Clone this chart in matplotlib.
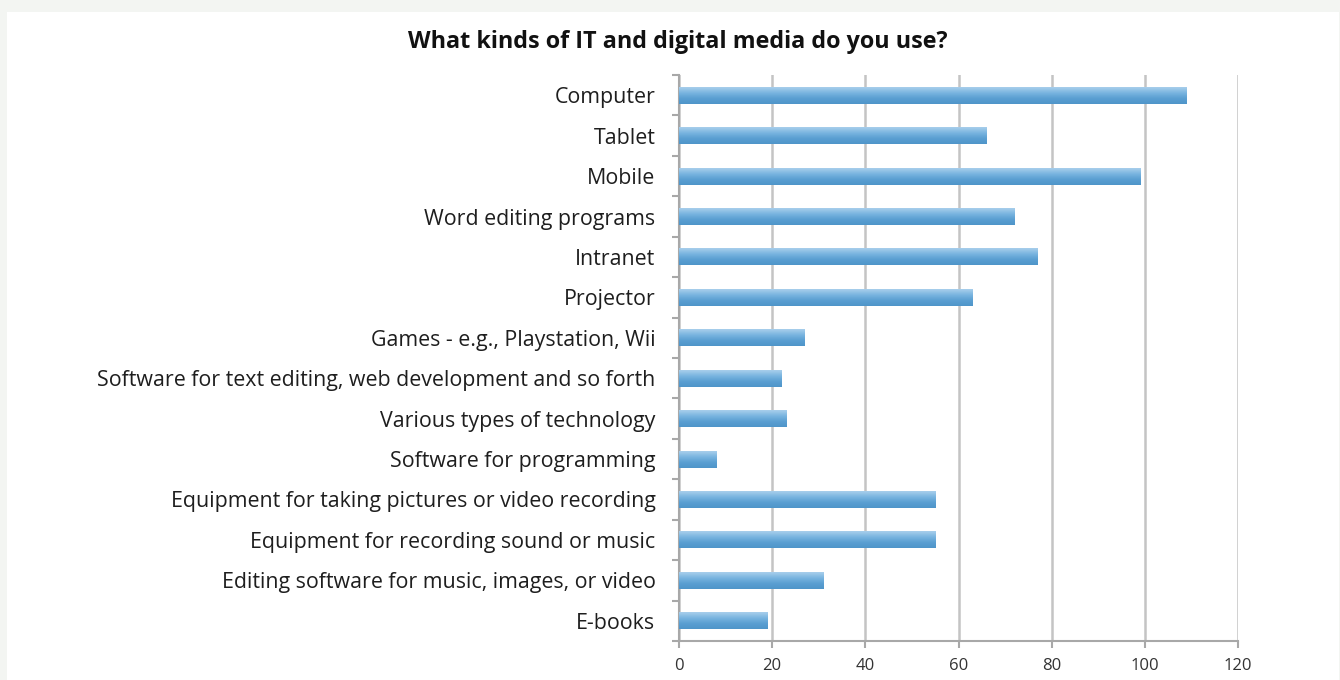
import numpy as np
import matplotlib.pyplot as plt
from matplotlib.patches import Rectangle
from matplotlib.colors import LinearSegmentedColormap

# survey answers, top to bottom
categories = [
    "Computer",
    "Tablet",
    "Mobile",
    "Word editing programs",
    "Intranet",
    "Projector",
    "Games - e.g., Playstation, Wii",
    "Software for text editing, web development and so forth",
    "Various types of technology",
    "Software for programming",
    "Equipment for taking pictures or video recording",
    "Equipment for recording sound or music",
    "Editing software for music, images, or video",
    "E-books",
]
counts = [109, 66, 99, 72, 77, 63, 27, 22, 23, 8, 55, 55, 31, 19]
xticks = [0, 20, 40, 60, 80, 100, 120]

W, H = 1340, 680
fig = plt.figure(figsize=(W / 100, H / 100), dpi=100)
fig.patch.set_facecolor("#f3f5f2")
# white sheet behind everything
fig.patches.append(Rectangle((7 / W, 0), 1 - 8 / W, 1 - 12 / H,
                             transform=fig.transFigure, facecolor="white",
                             edgecolor="none", zorder=-10))

ax = fig.add_axes([679 / W, 1 - 641 / H, (1238 - 679) / W, (641 - 75) / H])
ax.set_facecolor("none")

y = np.arange(len(categories))
bar_h = 0.42
bars = ax.barh(y, counts, height=bar_h, color="#62a5d6", zorder=2)

# shaded fill on each bar, light at the top edge, darker at the bottom
shade = LinearSegmentedColormap.from_list(
    "shade", ["#a9cfec", "#7ab5e0", "#5a9fd2", "#4f95c9"])
grad = np.linspace(0, 1, 64).reshape(-1, 1)
for b in bars:
    x0, y0 = b.get_x(), b.get_y()
    im = ax.imshow(grad, cmap=shade, aspect="auto", zorder=3,
                   extent=[x0, x0 + b.get_width(), y0 + b.get_height(), y0],
                   interpolation="bicubic")
    im.set_clip_path(b)

ax.set_ylim(len(categories) - 0.5, -0.5)
ax.set_xlim(0, 120)
ax.set_xticks(xticks)
ax.set_xticklabels([str(t) for t in xticks])
ax.set_yticks(y)
ax.set_yticklabels(categories)
ax.set_yticks(np.arange(len(categories) + 1) - 0.5, minor=True)

ax.grid(axis="x", color="#c4c4c4", linewidth=1.8, zorder=1)
ax.set_axisbelow(True)
for s in ["top", "right"]:
    ax.spines[s].set_visible(False)
for s in ["left", "bottom"]:
    ax.spines[s].set_color("#a8a8a8")
    ax.spines[s].set_linewidth(1.5)

ax.tick_params(axis="y", which="major", length=0, pad=17,
               labelsize=15.4, labelcolor="#1e1e1e")
ax.tick_params(axis="y", which="minor", length=5, color="#a8a8a8", width=1.5)
ax.tick_params(axis="x", length=5, color="#a8a8a8", width=1.5, pad=7,
               labelsize=12, labelcolor="#333333")
for lab in ax.get_yticklabels() + ax.get_xticklabels():
    lab.set_family("Open Sans")

fig.text(678 / W, 1 - 42 / H, "What kinds of IT and digital media do you use?",
         ha="center", va="center", fontsize=16.8, fontweight="bold",
         family="Open Sans", color="#111111")

fig.savefig("out.png", dpi=100, facecolor=fig.get_facecolor())
